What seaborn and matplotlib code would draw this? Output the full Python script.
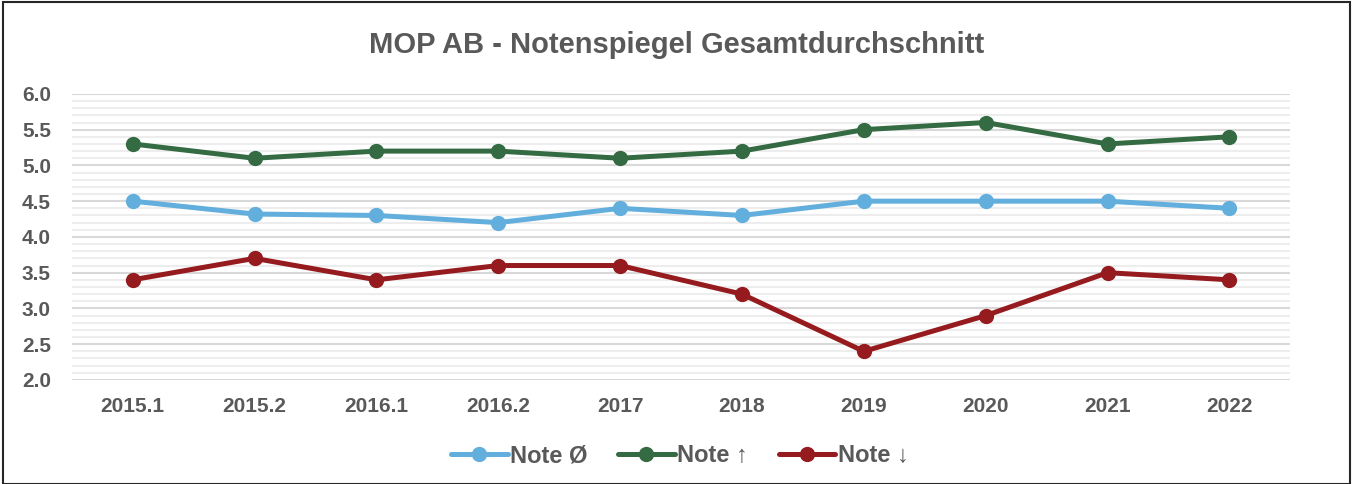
import pandas as pd
import matplotlib.pyplot as plt
import seaborn as sns
from matplotlib.patches import Rectangle
from matplotlib.ticker import MultipleLocator

# Data
periods = ['2015.1', '2015.2', '2016.1', '2016.2', '2017', '2018', '2019', '2020', '2021', '2022']
note_avg = [4.5, 4.32, 4.3, 4.2, 4.4, 4.3, 4.5, 4.5, 4.5, 4.4]
note_up = [5.3, 5.1, 5.2, 5.2, 5.1, 5.2, 5.5, 5.6, 5.3, 5.4]
note_down = [3.4, 3.7, 3.4, 3.6, 3.6, 3.2, 2.4, 2.9, 3.5, 3.4]
series_names = ['Note Ø', 'Note ↑', 'Note ↓']
colors = ['#62AEDC', '#346B43', '#951B1E']

# Long-form table for seaborn
data = pd.DataFrame({
    'Periode': periods * 3,
    'Note': note_avg + note_up + note_down,
    'Serie': [series_names[0]] * len(periods) + [series_names[1]] * len(periods) + [series_names[2]] * len(periods),
})

sns.set_style('white')
plt.rcParams['font.family'] = ['Liberation Sans', 'DejaVu Sans']
text_color = '#595959'

fig = plt.figure(figsize=(13.54, 4.84), dpi=100)
ax = fig.add_axes([0.053, 0.215, 0.9, 0.591])

sns.lineplot(data=data, x='Periode', y='Note', hue='Serie', palette=colors,
             marker='o', markersize=11, markeredgewidth=0, linewidth=3.6,
             sort=False, ax=ax, zorder=3)

ax.set_ylim(2.0, 6.0)
ax.set_xlim(-0.5, len(periods) - 0.5)
ax.yaxis.set_major_locator(MultipleLocator(0.5))
ax.yaxis.set_minor_locator(MultipleLocator(0.1))
ax.yaxis.set_major_formatter(plt.FormatStrFormatter('%.1f'))
ax.grid(axis='y', which='minor', color='#EDEDED', linewidth=1.5, zorder=0)
ax.grid(axis='y', which='major', color='#D9D9D9', linewidth=1.5, zorder=1)
ax.set_axisbelow(True)
for s in ax.spines.values():
    s.set_visible(False)

ax.tick_params(axis='both', which='both', length=0, labelcolor=text_color, labelsize=15)
ax.tick_params(axis='y', pad=15)
ax.tick_params(axis='x', pad=12)
for lbl in ax.get_xticklabels() + ax.get_yticklabels():
    lbl.set_fontweight('bold')
ax.set_xlabel('')
ax.set_ylabel('')

fig.text(0.5, 1 - 45 / 484, 'MOP AB - Notenspiegel Gesamtdurchschnitt', ha='center', va='center',
         fontsize=21, fontweight='bold', color=text_color)

handles, labels = ax.get_legend_handles_labels()
ax.legend(handles, labels, loc='center', bbox_to_anchor=(0.502, 0.058),
          bbox_transform=fig.transFigure, ncol=3, frameon=False,
          prop={'size': 17, 'weight': 'bold'}, labelcolor=text_color,
          handlelength=2.4, handletextpad=0.1, columnspacing=1.3)

# Outer frame
fig.patches.append(Rectangle((0.002, 0.0), 0.995, 0.996, transform=fig.transFigure,
                             fill=False, edgecolor='#262626', linewidth=1.5))

plt.savefig('out.png', dpi=100)
